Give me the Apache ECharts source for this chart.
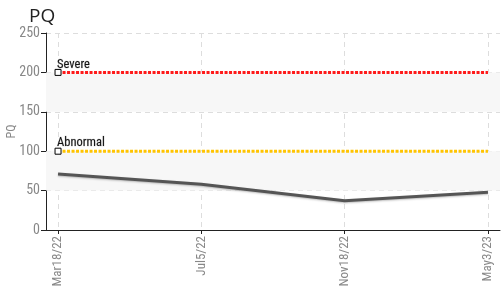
<!DOCTYPE html>
<html><head><meta charset="utf-8">
<script src="https://cdn.jsdelivr.net/npm/echarts@6/dist/echarts.min.js"></script>
<style>html,body{margin:0;padding:0;background:#fff}#c{width:501px;height:296px}</style>
</head><body><div id="c"></div>
<script>
const categories = ['Mar18/22', 'Jul5/22', 'Nov18/22', 'May3/23'];
const pqValues = [71, 58, 37, 48];
const severeValue = 200;
const abnormalValue = 100;
const bands = [[150, 200], [50, 100]];
const yTicks = [0, 50, 100, 150, 200, 250];

const idx = categories.map((_, i) => i);
const xMin = -0.084, xMax = 3.084;
const font = '"Liberation Sans Narrow", "Roboto Condensed", "DejaVu Sans Condensed", sans-serif';

function threshold(name, value, color) {
  return {
    type: 'line',
    name: name,
    data: idx.map(i => ({
      value: [i, value],
      symbol: i === 0 ? 'rect' : 'none',
      label: { show: i === 0 }
    })),
    symbolSize: 6,
    showAllSymbol: true,
    itemStyle: { color: '#fff', borderColor: '#000', borderWidth: 1 },
    lineStyle: { color: color, width: 3, type: [3, 1.5] },
    label: {
      position: 'top', align: 'left', offset: [-1, 7],
      formatter: name, color: '#111', fontSize: 12.5, fontFamily: font,
      textBorderColor: 'rgba(0,0,0,0.25)', textBorderWidth: 0.7
    },
    silent: true, z: 3
  };
}

const chart = echarts.init(document.getElementById('c'), null, { renderer: 'canvas' });
chart.setOption({
  animation: false,
  title: { text: 'PQ', left: 24, top: 2, textStyle: { fontSize: 19, fontWeight: 'normal', color: '#222', fontFamily: 'Open Sans, sans-serif' } },
  grid: { left: 46, right: 1, top: 33, bottom: 66, containLabel: false, outerBoundsMode: 'none' },
  xAxis: {
    type: 'value', min: xMin, max: xMax,
    axisLine: { show: true, onZero: false, lineStyle: { color: '#222', width: 1 } },
    axisTick: { show: true, customValues: idx, length: 4, inside: false, lineStyle: { color: '#222' } },
    axisLabel: {
      customValues: idx, rotate: 90, color: '#888', fontSize: 13, fontFamily: font, margin: 6,
      formatter: v => categories[Math.round(v)] || ''
    },
    splitLine: { show: true, lineStyle: { color: '#ddd', type: [5, 4] } }
  },
  yAxis: {
    type: 'value', min: yTicks[0], max: yTicks[yTicks.length - 1], interval: 50,
    name: 'PQ', nameLocation: 'middle', nameGap: 28, nameRotate: 90, nameMoveOverlap: false,
    nameTextStyle: { color: '#888', fontSize: 12, fontFamily: font },
    axisLine: { show: true, onZero: false, lineStyle: { color: '#222' } },
    axisTick: { show: true, length: 5, lineStyle: { color: '#222' } },
    axisLabel: { color: '#888', fontSize: 14, fontFamily: font, margin: 6 },
    splitLine: { show: true, lineStyle: { color: '#ddd', type: [5, 4] } }
  },
  series: [
    {
      type: 'line', name: 'PQ',
      data: idx.map(i => [i, pqValues[i]]),
      symbol: 'none',
      lineStyle: { color: '#555', width: 3, shadowColor: 'rgba(0,0,0,0.25)', shadowBlur: 2, shadowOffsetY: 1 },
      markArea: {
        silent: true,
        itemStyle: { color: '#f7f7f7' },
        data: bands.map(b => [{ coord: [xMin, b[0]] }, { coord: [xMax, b[1]] }])
      },
      z: 4
    },
    threshold('Severe', severeValue, '#ff1a1a'),
    threshold('Abnormal', abnormalValue, '#ffc400')
  ]
});
</script></body></html>
